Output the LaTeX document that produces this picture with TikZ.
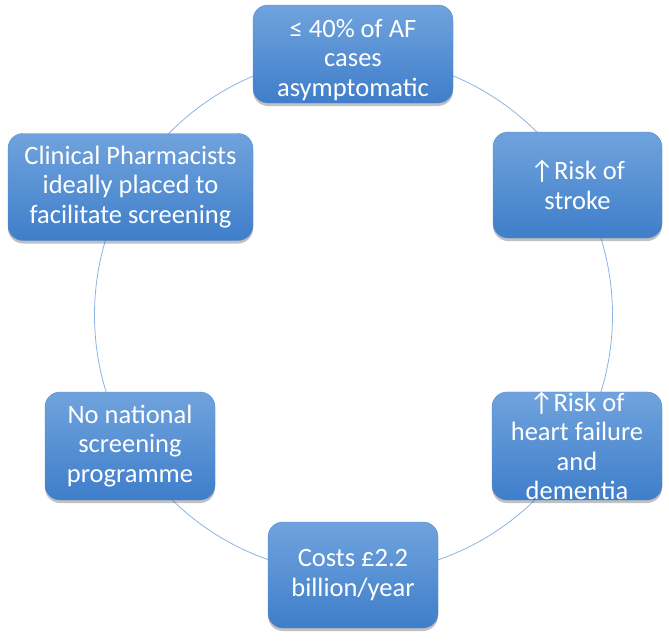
\documentclass[tikz,border=0pt]{standalone}
\usepackage{fontspec}
\setmainfont{Carlito}
\usetikzlibrary{shadows}
\definecolor{boxtop}{HTML}{70A3DD}
\definecolor{boxbot}{HTML}{3F7ECA}
\definecolor{ringcol}{HTML}{8DB3E2}
\tikzset{
  cyclebox/.style={rounded corners=15pt, top color=boxtop, bottom color=boxbot,
    draw=boxbot!90!white, line width=0.4pt,
    drop shadow={shadow xshift=0pt, shadow yshift=-3pt, opacity=0.35, fill=black!70},
    text=white, align=center, font=\fontsize{26.5}{29.5}\selectfont,
    inner sep=0pt},
  ring/.style={draw=ringcol, line width=0.8pt}
}
\begin{document}
\begin{tikzpicture}[x=1pt,y=-1pt]
\useasboundingbox (0,0) rectangle (669,640);
\coordinate (c) at (353.5,315);
\draw[ring] (c) circle[radius=259];
\node[cyclebox, minimum width=200pt, minimum height=98pt] (n1) at (353,54)
  {\rule{0pt}{30pt}≤ 40\% of AF\\cases\\asymptomatic};
\node[cyclebox, minimum width=169pt, minimum height=106pt] (n2) at (577.5,185)
  {↑Risk of\\stroke};
\node[cyclebox, minimum width=170pt, minimum height=108pt] (n3) at (577,446)
  {↑Risk of\\heart failure\\and\\dementia};
\node[cyclebox, minimum width=170pt, minimum height=106pt] (n4) at (353,575)
  {Costs £2.2\\billion/year};
\node[cyclebox, minimum width=170pt, minimum height=108pt] (n5) at (130,446)
  {No national\\screening\\programme};
\node[cyclebox, minimum width=245pt, minimum height=107pt] (n6) at (130.5,187)
  {Clinical Pharmacists\\ideally placed to\\facilitate screening};
\end{tikzpicture}
\end{document}
